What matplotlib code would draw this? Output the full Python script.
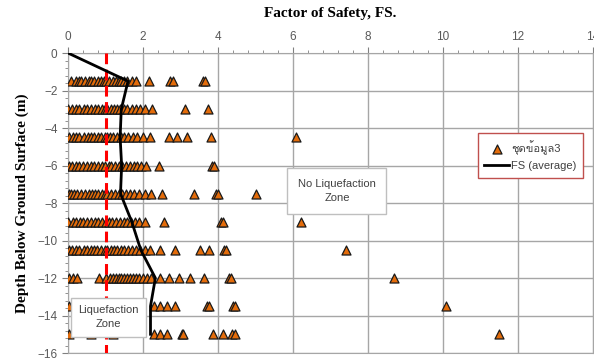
import matplotlib.pyplot as plt
from matplotlib import font_manager
from matplotlib.ft2font import FT2Font
from matplotlib.ticker import MultipleLocator

# depth of each test level (m) and the factor of safety values read at that level
depths = [-1.5, -3, -4.5, -6, -7.5, -9, -10.5, -12, -13.5, -15]
fs_values = [
    [0.08, 0.2, 0.28, 0.35, 0.45, 0.55, 0.62, 0.7, 0.8, 0.88, 0.95, 1.02, 1.1, 1.2,
     1.28, 1.35, 1.42, 1.5, 1.58, 1.7, 1.82, 2.15, 2.72, 2.8, 3.6, 3.66],
    [0.0, 0.1, 0.2, 0.3, 0.42, 0.5, 0.6, 0.72, 0.8, 0.9, 0.98, 1.05, 1.15, 1.22,
     1.3, 1.38, 1.48, 1.58, 1.7, 1.8, 1.92, 2.05, 2.25, 3.12, 3.72],
    [0.02, 0.12, 0.2, 0.3, 0.42, 0.52, 0.6, 0.7, 0.8, 0.88, 0.98, 1.05, 1.12, 1.2,
     1.3, 1.4, 1.5, 1.6, 1.72, 1.85, 2.0, 2.18, 2.68, 2.9, 3.18, 3.82, 6.08],
    [0.02, 0.1, 0.2, 0.3, 0.4, 0.5, 0.6, 0.7, 0.8, 0.9, 0.98, 1.08, 1.15, 1.25,
     1.35, 1.45, 1.55, 1.65, 1.75, 1.85, 1.95, 2.08, 2.42, 3.85, 3.9],
    [0.02, 0.08, 0.15, 0.25, 0.35, 0.45, 0.55, 0.65, 0.72, 0.8, 0.9, 0.98, 1.05, 1.15,
     1.25, 1.35, 1.45, 1.55, 1.65, 1.75, 1.9, 2.05, 2.2, 2.5, 3.35, 3.95, 4.0, 5.02],
    [0.0, 0.12, 0.22, 0.32, 0.4, 0.5, 0.6, 0.72, 0.8, 0.9, 1.0, 1.08, 1.18, 1.28,
     1.38, 1.48, 1.58, 1.68, 1.78, 1.88, 2.05, 2.55, 4.08, 4.12, 6.2],
    [0.02, 0.1, 0.2, 0.3, 0.42, 0.5, 0.6, 0.7, 0.78, 0.88, 0.98, 1.05, 1.15, 1.22,
     1.3, 1.4, 1.5, 1.6, 1.7, 1.8, 1.92, 2.05, 2.18, 2.45, 2.85, 3.52, 3.75, 4.15, 4.2, 7.42],
    [0.02, 0.12, 0.25, 0.82, 1.0, 1.12, 1.2, 1.28, 1.35, 1.42, 1.5, 1.58, 1.65, 1.72,
     1.8, 1.9, 2.0, 2.1, 2.2, 2.45, 2.7, 2.95, 3.25, 3.62, 4.3, 4.35, 8.7],
    [0.02, 0.5, 1.0, 1.5, 2.28, 2.45, 2.63, 2.85, 3.7, 3.75, 4.4, 4.45, 10.08],
    [0.02, 0.6, 1.2, 2.3, 2.45, 2.63, 3.03, 3.07, 3.86, 4.14, 4.37, 4.45, 11.5],
]

# average FS profile
avg_depth = [0, -1.5, -3, -4.5, -6, -7.5, -9, -10.5, -12, -13.5, -15]
avg_fs = [0, 1.6, 1.42, 1.39, 1.43, 1.4, 1.7, 1.94, 2.33, 2.2, 2.2]

fs_limit = 1.0


def thai_font():
    for f in font_manager.fontManager.ttflist:
        try:
            if 0x0E0A in FT2Font(f.fname).get_charmap():
                return f.name
        except Exception:
            pass
    return None


th = thai_font()
fams = ['Liberation Sans'] + ([th] if th else []) + ['DejaVu Sans']
plt.rcParams['font.family'] = fams

fig = plt.figure(figsize=(5.94, 3.6), dpi=100)
ax = fig.add_axes([0.1145, 0.0194, 0.8838, 0.8333])

xs, ys = [], []
for d, vals in zip(depths, fs_values):
    xs += vals
    ys += [d] * len(vals)

ax.scatter(xs, ys, marker='^', s=42, facecolor='#E46C0A', edgecolor='#1a1a1a',
           linewidth=0.9, zorder=3, label='ชุดข้อมูล3')
ax.plot(avg_fs, avg_depth, color='black', lw=2.0, zorder=5, label='FS (average)')
ax.plot([fs_limit, fs_limit], [0, -16], color='#FF0000', lw=2.2,
        ls=(0, (3.5, 1.8)), zorder=4)

ax.set_xlim(0, 14)
ax.set_ylim(-16, 0)
ax.xaxis.tick_top()
ax.xaxis.set_label_position('top')
ax.xaxis.set_major_locator(MultipleLocator(2))
ax.xaxis.set_minor_locator(MultipleLocator(0.4))
ax.yaxis.set_major_locator(MultipleLocator(2))
ax.yaxis.set_minor_locator(MultipleLocator(0.4))
ax.grid(True, which='major', color='#A6A6A6', lw=1.0)
ax.set_axisbelow(True)
for s in ax.spines.values():
    s.set_color('#A6A6A6')
ax.tick_params(which='both', colors='#808080', labelcolor='#595959', labelsize=8.5)
ax.tick_params(which='major', length=4)
ax.tick_params(which='minor', length=2)

ax.set_xlabel('Factor of Safety, FS.', family='Liberation Serif', fontweight='bold',
              fontsize=11, labelpad=10)
ax.set_ylabel('Depth Below Ground Surface (m)', family='Liberation Serif',
              fontweight='bold', fontsize=11, labelpad=6)

ax.text(1.07, -14.1, 'Liquefaction\nZone', ha='center', va='center', fontsize=8,
        color='#404040', linespacing=1.5, zorder=6,
        bbox=dict(boxstyle='square,pad=0.65', facecolor='white', edgecolor='#BFBFBF'))
ax.text(7.17, -7.36, 'No Liquefaction\nZone', ha='center', va='center', fontsize=8,
        color='#404040', linespacing=1.5, zorder=6,
        bbox=dict(boxstyle='square,pad=0.95', facecolor='white', edgecolor='#BFBFBF'))

leg = ax.legend(loc='upper right', bbox_to_anchor=(0.981, 0.733), borderaxespad=0,
                fontsize=8, frameon=True, fancybox=False, framealpha=1,
                edgecolor='#C0504D', handlelength=2.2, handletextpad=0.2,
                borderpad=0.6, labelspacing=0.6)
leg.get_frame().set_linewidth(1.0)
for t in leg.get_texts():
    t.set_color('#404040')

fig.savefig('out.png', dpi=100)
